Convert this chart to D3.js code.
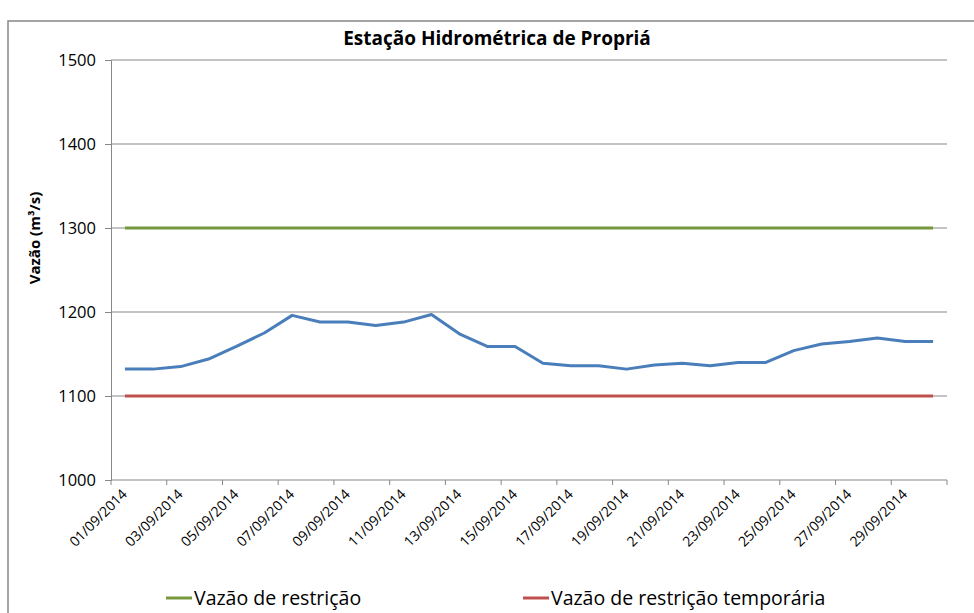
<!DOCTYPE html>
<html lang="pt">
<head>
<meta charset="UTF-8">
<title>Estação Hidrométrica de Propriá</title>
<script src="https://d3js.org/d3.v7.min.js"></script>
<style>
  body { margin: 0; background: #fff; }
  svg { display: block; font-family: 'Open Sans', 'Noto Sans', sans-serif; }
  .tick text { fill: #000; }
</style>
</head>
<body>
<svg width="974" height="613"></svg>
<script>
// dates of September 2014, one reading per day
const days = d3.range(1, 31).map(d => String(d).padStart(2, "0") + "/09/2014");
const vazao = [1132, 1132, 1135, 1144, 1159, 1175, 1196, 1188, 1188, 1184,
               1188, 1197, 1174, 1159, 1159, 1139, 1136, 1136, 1132, 1137,
               1139, 1136, 1140, 1140, 1154, 1162, 1165, 1169, 1165, 1165];
const restricao = days.map(() => 1300);
const restricaoTemp = days.map(() => 1100);
const yTicks = [1000, 1100, 1200, 1300, 1400, 1500];
const labelDays = days.filter((d, i) => i % 2 === 0);

const svg = d3.select("svg");
const plotL = 111, plotR = 947, plotT = 60, plotB = 480;

const x = d3.scaleBand().domain(days).range([plotL, plotR]).padding(0);
const xEdge = d3.scaleLinear().domain([0, days.length]).range([plotL, plotR]);
const y = d3.scaleLinear().domain([1000, 1500]).range([plotB, plotT]);
const cx = d => x(d) + x.bandwidth() / 2;

// chart frame (runs off the right and bottom of the picture)
svg.append("path")
  .attr("d", "M8,613V21H974")
  .attr("fill", "none")
  .attr("stroke", "#888")
  .attr("stroke-width", 1.5);

svg.append("text")
  .attr("x", 497).attr("y", 45)
  .attr("text-anchor", "middle")
  .style("font-size", "19px").style("font-weight", "bold")
  .text("Estação Hidrométrica de Propriá");

// horizontal gridlines
svg.append("g")
  .selectAll("line")
  .data(yTicks.slice(1))
  .join("line")
  .attr("x1", plotL).attr("x2", plotR)
  .attr("y1", d => y(d)).attr("y2", d => y(d))
  .attr("stroke", "#878787").attr("stroke-width", 1);

// y axis
const yAxis = svg.append("g")
  .attr("transform", `translate(${plotL},0)`)
  .call(d3.axisLeft(y).tickValues(yTicks).tickSize(6).tickPadding(9).tickFormat(d3.format("d")));
yAxis.selectAll("path, line").attr("stroke", "#878787");
yAxis.selectAll("text").style("font-size", "16.5px");
yAxis.attr("font-family", null);

svg.append("text")
  .attr("transform", "translate(40,238) rotate(-90)")
  .attr("text-anchor", "middle")
  .style("font-size", "15px").style("font-weight", "bold")
  .text("Vazão (m³/s)");

// x axis: ticks on category edges every 2 days, labels at category centres
const xg = svg.append("g").attr("transform", `translate(0,${plotB})`);
xg.append("line")
  .attr("x1", plotL).attr("x2", plotR)
  .attr("stroke", "#878787");
xg.selectAll("line.tk")
  .data(d3.range(0, days.length + 1, 2))
  .join("line").attr("class", "tk")
  .attr("x1", d => xEdge(d)).attr("x2", d => xEdge(d))
  .attr("y1", 0).attr("y2", 5)
  .attr("stroke", "#878787");
xg.selectAll("text")
  .data(labelDays)
  .join("text")
  .attr("transform", d => `translate(${cx(d) + 3},${15}) rotate(-45)`)
  .attr("text-anchor", "end")
  .style("font-size", "14px")
  .text(d => d);

// series
const line = d3.line().x((v, i) => cx(days[i])).y(v => y(v));
const series = [
  { values: restricao, color: "#77983C" },
  { values: restricaoTemp, color: "#C0504D" },
  { values: vazao, color: "#4A7EBB" }
];
svg.append("g")
  .selectAll("path")
  .data(series)
  .join("path")
  .attr("d", s => line(s.values))
  .attr("fill", "none")
  .attr("stroke", s => s.color)
  .attr("stroke-width", 3)
  .attr("stroke-linejoin", "round");

// legend
const legend = [
  { name: "Vazão de restrição", color: "#77983C", x: 166 },
  { name: "Vazão de restrição temporária", color: "#C0504D", x: 523 }
];
const lg = svg.append("g").selectAll("g").data(legend).join("g")
  .attr("transform", d => `translate(${d.x},598)`);
lg.append("line").attr("x1", 0).attr("x2", 26)
  .attr("stroke", d => d.color).attr("stroke-width", 3);
lg.append("text").attr("x", 28).attr("y", 7)
  .style("font-size", "19.5px")
  .text(d => d.name);
</script>
</body>
</html>
